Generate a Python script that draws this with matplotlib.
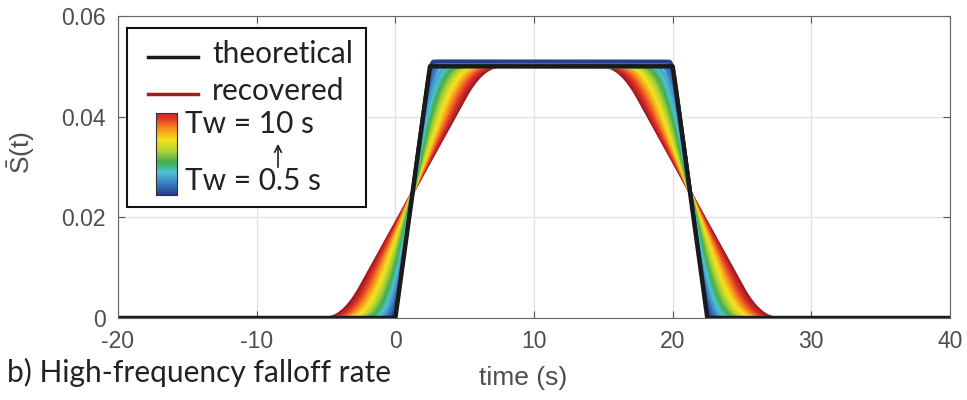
import numpy as np
import matplotlib
matplotlib.use("Agg")
from matplotlib import pyplot as plt
from matplotlib.patches import Rectangle, FancyArrowPatch
from matplotlib.colors import LinearSegmentedColormap

# theoretical source time function (trapezoid corners)
theo_t = [-20, 0, 2.5, 20, 22.5, 40]
theo_s = [0, 0, 0.05, 0.05, 0, 0]

# window lengths of the recovered curves (s) and their plateau level
tw = [0.5, 1.0, 1.5, 2.0, 2.5, 3.0, 3.5, 4.0, 4.5, 5.0,
      5.5, 6.0, 6.5, 7.0, 7.5, 8.0, 8.5, 9.0, 9.5, 10.0]
plateau = [0.051, 0.051, 0.0508, 0.0505] + [0.05] * 16

xticks = [-20, -10, 0, 10, 20, 30, 40]
yticks = [0, 0.02, 0.04, 0.06]

W, H = 967, 400

plt.rcParams["mathtext.fontset"] = "custom"
plt.rcParams["mathtext.rm"] = "Liberation Sans"


def px(x, y):
    return x / W, 1 - y / H


cmap = LinearSegmentedColormap.from_list(
    "muted_jet", ["#253f8c", "#3c7cc2", "#50c2d8", "#42ae4c", "#b3d234",
                  "#f5e41c", "#f7941d", "#e6332a", "#9e1c20"])

fig = plt.figure(figsize=(W / 100, H / 100), dpi=100)
ax = fig.add_axes([118 / W, 1 - 318 / H, (950 - 118) / W, (318 - 16) / H])

dt = 0.01
t = np.arange(-20, 40 + dt / 2, dt)
base = np.interp(t, theo_t, theo_s) / 0.05
for i in range(len(tw) - 1, -1, -1):
    n = int(round(tw[i] / dt))
    kern = np.ones(n) / n
    rec = np.convolve(base, kern, mode="same") * plateau[i]
    ax.plot(t, rec, color=cmap(i / (len(tw) - 1)), lw=2.4, solid_capstyle="round")

ax.plot(theo_t, theo_s, color="#1a1a1a", lw=3.2, solid_joinstyle="round")

ax.set_xlim(-20, 40)
ax.set_ylim(0, 0.06)
ax.set_xticks(xticks)
ax.set_yticks(yticks)
ax.set_xticklabels([str(v) for v in xticks], family="Liberation Sans")
ax.set_yticklabels(["0", "0.02", "0.04", "0.06"], family="Liberation Sans")
ax.grid(True, color="#e3e3e3", lw=1)
ax.set_axisbelow(True)
ax.tick_params(direction="in", length=5, width=0.8, colors="#555555",
               labelsize=16.5, labelcolor="#4d4d4d", top=True, right=True, pad=9)
for sp in ax.spines.values():
    sp.set_color("#666666")
    sp.set_linewidth(0.8)

fig.text(*px(523, 378), "time (s)", ha="center", va="center", fontsize=19,
         color="#4d4d4d", family="Liberation Sans")
fig.text(*px(21, 153), r"$\bar{\rm S}{\rm (t)}$", ha="center", va="center", fontsize=19,
         color="#4d4d4d", rotation=90)
fig.text(*px(7, 372), "b) High-frequency falloff rate", ha="left", va="center",
         fontsize=21.5, color="#222222", family="Lato")

# legend box drawn by hand
x0, y0 = px(127, 207)
x1, y1 = px(366, 28)
fig.patches.append(Rectangle((x0, y0), x1 - x0, y1 - y0, transform=fig.transFigure,
                             facecolor="white", edgecolor="#111111", lw=1.5, zorder=5))
for yy, col, lab in [(57, "#1a1a1a", "theoretical"), (94, "#a31d1d", "recovered")]:
    a, b = px(148, yy)
    c, _ = px(198, yy)
    fig.add_artist(plt.Line2D([a, c], [b, b], color=col, lw=2.5, transform=fig.transFigure,
                              zorder=6))
    fig.text(*px(212, yy - 3), lab, ha="left", va="center", fontsize=21.5,
             color="#222222", family="Lato", zorder=6)

cax = fig.add_axes([156 / W, 1 - 195 / H, 21 / W, 82 / H], zorder=7)
cax.imshow(np.linspace(0.93, 0, 100).reshape(-1, 1), cmap=cmap, vmin=0, vmax=1,
           aspect="auto")
cax.set_xticks([])
cax.set_yticks([])
for sp in cax.spines.values():
    sp.set_color("#333333")
    sp.set_linewidth(0.8)

fig.text(*px(185, 124), "Tw = 10 s", ha="left", va="center", fontsize=21.5,
         color="#222222", family="Lato", zorder=8)
fig.text(*px(185, 181), "Tw = 0.5 s", ha="left", va="center", fontsize=21.5,
         color="#222222", family="Lato", zorder=8)
fig.add_artist(FancyArrowPatch(px(278, 170), px(278, 141), transform=fig.transFigure,
                               arrowstyle="->", mutation_scale=12,
                               color="#222222", lw=1.2, zorder=8))

fig.savefig("out.png", dpi=100)
